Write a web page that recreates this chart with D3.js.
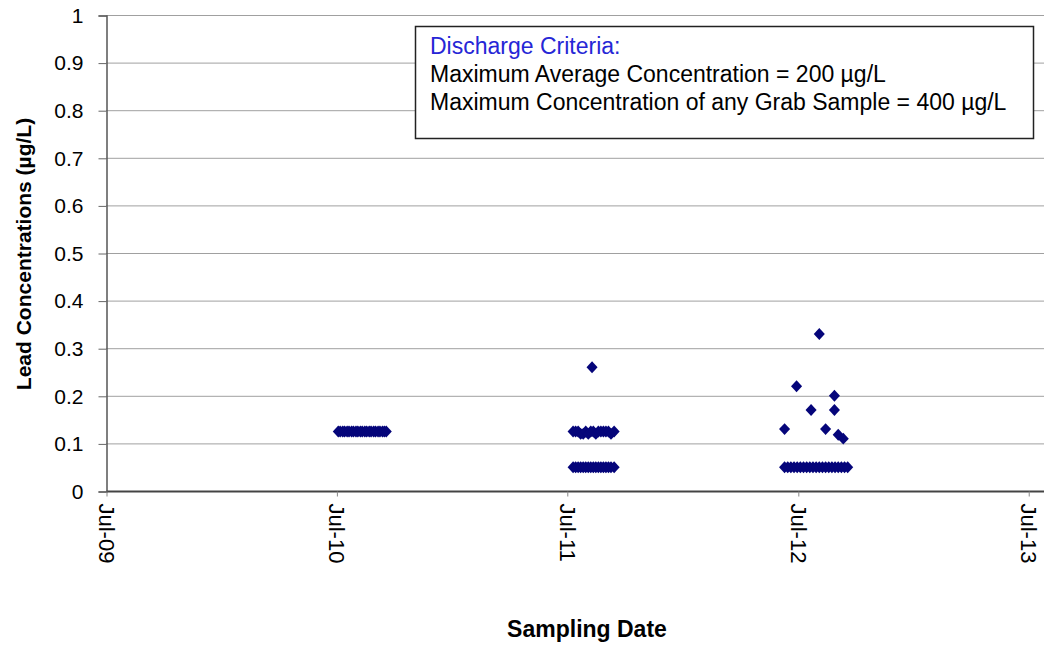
<!DOCTYPE html>
<html>
<head>
<meta charset="utf-8">
<script src="https://cdn.jsdelivr.net/npm/d3@7"></script>
<style>
  html, body { margin: 0; padding: 0; background: #fff; }
  svg { display: block; font-family: "Liberation Sans", Arial, sans-serif; }
</style>
</head>
<body>
<svg id="chart" width="1044" height="645"></svg>
<script>
// ---- data ----
const yTicks = [0, 0.1, 0.2, 0.3, 0.4, 0.5, 0.6, 0.7, 0.8, 0.9, 1];
const xTickDates = ["2009-07-01", "2010-07-01", "2011-07-01", "2012-07-01", "2013-07-01"];
const xTickLabels = ["Jul-09", "Jul-10", "Jul-11", "Jul-12", "Jul-13"];

const dates2010 = ["2010-07-04","2010-07-07","2010-07-11","2010-07-14","2010-07-18","2010-07-21","2010-07-25","2010-07-28",
  "2010-08-01","2010-08-04","2010-08-08","2010-08-11","2010-08-15","2010-08-18","2010-08-22","2010-08-25","2010-08-29",
  "2010-09-01","2010-09-05","2010-09-08","2010-09-12","2010-09-15","2010-09-18"];
const values2010 = [0.125,0.125,0.125,0.125,0.125,0.125,0.125,0.125,0.125,0.125,0.125,0.125,0.125,0.125,0.125,0.125,0.125,
  0.125,0.125,0.125,0.125,0.125,0.125];

const dates2011 = ["2011-07-11","2011-07-15","2011-07-19","2011-07-23","2011-07-27","2011-07-31","2011-08-04","2011-08-08",
  "2011-08-12","2011-08-16","2011-08-20","2011-08-24","2011-08-28","2011-09-01","2011-09-05","2011-09-09","2011-09-14",
  "2011-07-11","2011-07-15","2011-07-19","2011-07-23","2011-07-27","2011-07-31","2011-08-04","2011-08-08",
  "2011-08-12","2011-08-16","2011-08-20","2011-08-24","2011-08-28","2011-09-01","2011-09-05","2011-09-09","2011-09-14",
  "2011-08-10"];
const values2011 = [0.125,0.125,0.125,0.12,0.12,0.125,0.12,0.125,0.125,0.12,0.125,0.125,0.125,0.125,0.125,0.12,0.125,
  0.05,0.05,0.05,0.05,0.05,0.05,0.05,0.05,0.05,0.05,0.05,0.05,0.05,0.05,0.05,0.05,0.05,
  0.26];

const dates2012 = ["2012-06-10","2012-06-15","2012-06-20","2012-06-25","2012-06-30","2012-07-05","2012-07-10","2012-07-15",
  "2012-07-20","2012-07-25","2012-07-30","2012-08-04","2012-08-09","2012-08-14","2012-08-19","2012-08-24","2012-08-29",
  "2012-09-03","2012-09-08","2012-09-13","2012-09-18",
  "2012-06-10","2012-06-29","2012-07-22","2012-08-04","2012-08-14","2012-08-28","2012-08-28","2012-09-03","2012-09-11"];
const values2012 = [0.05,0.05,0.05,0.05,0.05,0.05,0.05,0.05,0.05,0.05,0.05,0.05,0.05,0.05,0.05,0.05,0.05,0.05,0.05,0.05,0.05,
  0.13,0.22,0.17,0.33,0.13,0.2,0.17,0.118,0.11];

const legendLines = ["Discharge Criteria:",
  "Maximum Average Concentration = 200 \u00b5g/L",
  "Maximum Concentration of any Grab Sample = 400 \u00b5g/L"];
const xTitle = "Sampling Date";
const yTitle = "Lead Concentrations (\u00b5g/L)";

// ---- build ----
const parse = d3.timeParse("%Y-%m-%d");
const points = [];
[[dates2010, values2010], [dates2011, values2011], [dates2012, values2012]].forEach(([ds, vs]) => {
  ds.forEach((d, i) => points.push({ date: parse(d), value: vs[i] }));
});

const svg = d3.select("#chart");
const plotLeft = 106, plotRight = 1044, plotTop = 15, plotBottom = 491;
const FONT = "Liberation Sans, Arial, sans-serif";

const x = d3.scaleTime()
  .domain([parse("2009-07-01"), parse("2013-07-26")])
  .range([plotLeft, plotRight]);
const y = d3.scaleLinear().domain([0, 1]).range([plotBottom, plotTop]);

// gridlines
svg.append("g")
  .selectAll("line")
  .data(yTicks.filter(t => t > 0))
  .join("line")
  .attr("x1", plotLeft).attr("x2", plotRight)
  .attr("y1", d => y(d) + 0.5).attr("y2", d => y(d) + 0.5)
  .attr("stroke", "#a0a0a0").attr("stroke-width", 1);

// y axis
const yAxis = d3.axisLeft(y).tickValues(yTicks).tickSize(8).tickPadding(15)
  .tickFormat(d => String(+d.toFixed(1)));
const gy = svg.append("g").attr("transform", `translate(${plotLeft + 0.5},0.5)`).call(yAxis);
gy.select(".domain").attr("stroke", "#555").attr("stroke-width", 1.5);
gy.selectAll(".tick line").attr("stroke", "#666");
gy.selectAll(".tick text").attr("font-size", 21).attr("fill", "#000")
  .attr("font-family", FONT);

// x axis
const xAxis = d3.axisBottom(x).tickValues(xTickDates.map(parse)).tickSize(5).tickPadding(6)
  .tickFormat((d, i) => xTickLabels[i]);
const gx = svg.append("g").attr("transform", `translate(0.5,${plotBottom + 0.5})`).call(xAxis);
gx.select(".domain").attr("stroke", "#444").attr("stroke-width", 2)
  .attr("d", `M${plotLeft},0H${plotRight}`);
gx.selectAll(".tick line").attr("stroke", "#888");
gx.selectAll(".tick text")
  .attr("font-size", 22).attr("fill", "#000")
  .attr("font-family", FONT)
  .attr("text-anchor", "start")
  .attr("dy", null)
  .attr("transform", "translate(-8,12) rotate(90)")
  .attr("x", 0).attr("y", 0);

// points
const diamond = d3.symbol().type(d3.symbolDiamond2).size(78);
svg.append("g")
  .selectAll("path")
  .data(points)
  .join("path")
  .attr("d", diamond)
  .attr("transform", d => `translate(${x(d.date)},${y(d.value)}) scale(1.0,1.08)`)
  .attr("fill", "#05057a");

// legend box
const lg = svg.append("g");
lg.append("rect").attr("x", 415.5).attr("y", 26.5).attr("width", 618).attr("height", 112)
  .attr("fill", "#fff").attr("stroke", "#222").attr("stroke-width", 1.5);
lg.selectAll("text").data(legendLines).join("text")
  .attr("x", 430).attr("y", (d, i) => 54 + i * 28)
  .attr("font-size", 23)
  .attr("font-family", FONT)
  .attr("fill", (d, i) => i === 0 ? "#2626d6" : "#000")
  .text(d => d);

// axis titles
svg.append("text").attr("x", 587).attr("y", 637).attr("text-anchor", "middle")
  .attr("font-family", FONT)
  .attr("font-size", 23).attr("font-weight", "bold").text(xTitle);
svg.append("text").attr("transform", `translate(31,254) rotate(-90)`).attr("text-anchor", "middle")
  .attr("font-family", FONT)
  .attr("font-size", 21).attr("font-weight", "bold").text(yTitle);
</script>
</body>
</html>
